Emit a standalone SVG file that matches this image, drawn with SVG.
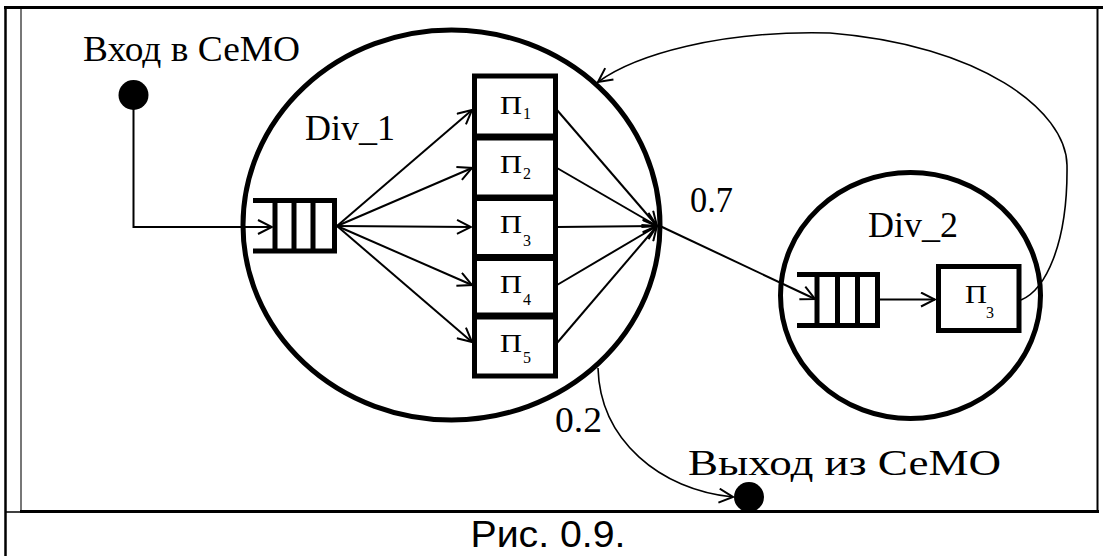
<svg xmlns="http://www.w3.org/2000/svg" width="1103" height="556" viewBox="0 0 1103 556">
<defs>
<style>
.ln{stroke:#000;fill:none}
.ring{fill:none;stroke:#000;stroke-width:5}
.box{fill:#fff;stroke:#000;stroke-width:5}
.q{stroke:#000;stroke-width:5;fill:none}
.conn{stroke:#000;stroke-width:2;fill:none}
.thin{stroke:#000;stroke-width:1.6;fill:none}
.t{font-family:"Liberation Serif","Times New Roman",serif;font-size:36px;fill:#000}
.p{font-family:"Liberation Serif","Times New Roman",serif;font-size:25px;fill:#000}
.s{font-family:"Liberation Serif","Times New Roman",serif;font-size:16px;fill:#000}
.cap{font-family:"Liberation Sans",Arial,sans-serif;font-size:37px;fill:#000}
</style>
<marker id="arr" viewBox="0 0 16 16" refX="15" refY="8" markerWidth="16" markerHeight="16" markerUnits="userSpaceOnUse" orient="auto">
<path d="M1,1 L15,8 L1,15" fill="none" stroke="#000" stroke-width="2"/>
</marker>
</defs>
<rect x="0" y="0" width="1103" height="556" fill="#fff"/>
<g id="frame">
<line class="ln" x1="5.5" y1="6" x2="5.5" y2="556" stroke-width="2.5"/>
<line class="ln" x1="4" y1="7.5" x2="1103" y2="7.5" stroke-width="3"/>
<line x1="21" y1="9" x2="21" y2="511" stroke="#555" stroke-width="1.6"/>
<line class="ln" x1="1097.5" y1="7" x2="1097.5" y2="513" stroke-width="2"/>
<line class="ln" x1="20" y1="511.5" x2="1099" y2="511.5" stroke-width="3"/>
<line class="ln" x1="5" y1="512" x2="21" y2="512" stroke-width="1.5"/>
</g>
<g id="div1">
<ellipse class="ring" cx="451.5" cy="225" rx="208.5" ry="195"/>
<text class="t" x="305" y="140" textLength="90" lengthAdjust="spacingAndGlyphs">Div_1</text>
</g>
<g id="queue1">
<path class="q" d="M253,200.5 H337 M253,251 H337 M275,200.5 V251 M294,200.5 V251 M313,200.5 V251 M334.5,200.5 V251"/>
</g>
<g id="p1"><rect class="box" x="474.5" y="76" width="81" height="60"/><text class="p" x="500" y="114" textLength="22" lengthAdjust="spacingAndGlyphs">П</text><text class="s" x="523" y="119">1</text></g>
<g id="p2"><rect class="box" x="474.5" y="138" width="81" height="59"/><text class="p" x="500" y="173" textLength="22" lengthAdjust="spacingAndGlyphs">П</text><text class="s" x="523" y="179">2</text></g>
<g id="p3"><rect class="box" x="474.5" y="198.5" width="81" height="58"/><text class="p" x="500" y="233" textLength="22" lengthAdjust="spacingAndGlyphs">П</text><text class="s" x="523" y="246">3</text></g>
<g id="p4"><rect class="box" x="474.5" y="258.5" width="81" height="56.5"/><text class="p" x="500" y="293" textLength="22" lengthAdjust="spacingAndGlyphs">П</text><text class="s" x="523" y="305">4</text></g>
<g id="p5"><rect class="box" x="474.5" y="317" width="81" height="59"/><text class="p" x="500" y="352" textLength="22" lengthAdjust="spacingAndGlyphs">П</text><text class="s" x="523" y="363">5</text></g>
<g id="div2">
<ellipse class="ring" cx="910.5" cy="295.5" rx="130" ry="123"/>
<text class="t" x="868" y="237" textLength="90" lengthAdjust="spacingAndGlyphs">Div_2</text>
</g>
<g id="queue2">
<path class="q" d="M797,274.5 H880 M797,325.5 H880 M817,274.5 V325.5 M837.5,274.5 V325.5 M857.5,274.5 V325.5 M877.5,274.5 V325.5"/>
</g>
<g id="p3b"><rect class="box" x="938.5" y="266.5" width="80.5" height="64"/><text class="p" x="965" y="303" textLength="22" lengthAdjust="spacingAndGlyphs">П</text><text class="s" x="986" y="318">3</text></g>
<g id="entry">
<circle cx="133.5" cy="95" r="15"/>
<text class="t" x="83" y="61" textLength="217" lengthAdjust="spacingAndGlyphs">Вход в СеМО</text>
</g>
<g id="exit">
<circle cx="749" cy="497" r="15"/>
<text class="t" x="688" y="475" textLength="313" lengthAdjust="spacingAndGlyphs">Выход из СеМО</text>
</g>
<g id="connectors">
<path class="conn" d="M133.5,95 V227 H272" marker-end="url(#arr)"/>
<line class="conn" x1="337" y1="226" x2="472" y2="110" marker-end="url(#arr)"/>
<line class="conn" x1="337" y1="226" x2="472" y2="168" marker-end="url(#arr)"/>
<line class="conn" x1="337" y1="226" x2="471" y2="227" marker-end="url(#arr)"/>
<line class="conn" x1="337" y1="226" x2="472" y2="285" marker-end="url(#arr)"/>
<line class="conn" x1="337" y1="226" x2="472" y2="342" marker-end="url(#arr)"/>
<line class="conn" x1="557" y1="110" x2="657" y2="226" marker-end="url(#arr)"/>
<line class="conn" x1="557" y1="168" x2="657" y2="226" marker-end="url(#arr)"/>
<line class="conn" x1="557" y1="227" x2="657" y2="226" marker-end="url(#arr)"/>
<line class="conn" x1="557" y1="285" x2="657" y2="226" marker-end="url(#arr)"/>
<line class="conn" x1="557" y1="343" x2="657" y2="226" marker-end="url(#arr)"/>
<line class="conn" x1="660" y1="226" x2="815" y2="299" marker-end="url(#arr)"/>
<line class="conn" x1="880" y1="299.5" x2="935" y2="299.5" marker-end="url(#arr)"/>
<path class="thin" d="M1021,300 C1045,290 1068,245 1067,165 C1066,110 980,45 830,33 C720,30 635,55 598,82" marker-end="url(#arr)"/>
<path class="thin" d="M598,368 C600,440 660,490 733,497" marker-end="url(#arr)"/>
<text class="t" x="690" y="212" textLength="43" lengthAdjust="spacingAndGlyphs">0.7</text>
<text class="t" x="555" y="432" textLength="47" lengthAdjust="spacingAndGlyphs">0.2</text>
</g>
<text class="cap" x="548" y="547" text-anchor="middle" textLength="155" lengthAdjust="spacingAndGlyphs">Рис. 0.9.</text>
</svg>
